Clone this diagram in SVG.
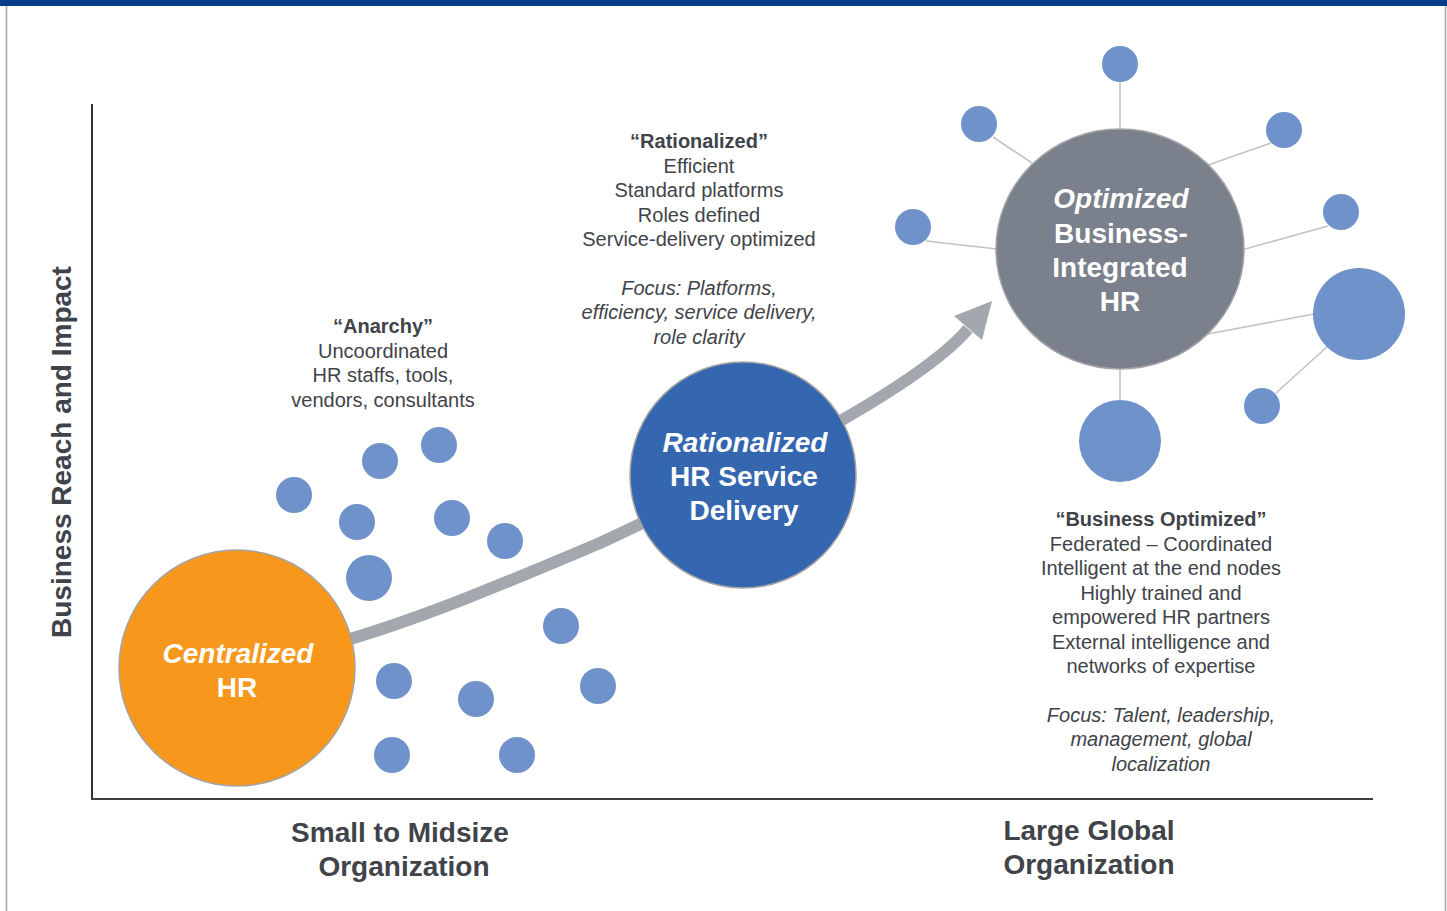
<svg xmlns="http://www.w3.org/2000/svg" width="1447" height="911" viewBox="0 0 1447 911">
<style>
.t{font-family:"Liberation Sans",Arial,sans-serif;font-size:20px;fill:#404349;text-anchor:middle}
.b{font-weight:bold}
.i{font-style:italic}
.n{font-family:"Liberation Sans",Arial,sans-serif;font-size:28px;font-weight:bold;fill:#ffffff;text-anchor:middle}
.ax{font-family:"Liberation Sans",Arial,sans-serif;font-size:28px;font-weight:bold;fill:#404349;text-anchor:middle}
.dot{fill:#7092CA}
.sat{stroke:#C3C3C3;stroke-width:1.6;fill:none}
</style>
<rect x="0" y="0" width="1447" height="911" fill="#ffffff"/>
<rect x="0" y="0" width="1447" height="6" fill="#063E87"/>
<line x1="6.5" y1="6" x2="6.5" y2="911" stroke="#A8A8A8" stroke-width="1.5"/>
<line x1="1445.5" y1="6" x2="1445.5" y2="911" stroke="#A8A8A8" stroke-width="1.5"/>

<g id="axes">
<line x1="92" y1="104" x2="92" y2="800" stroke="#333333" stroke-width="2"/>
<line x1="91" y1="799" x2="1373" y2="799" stroke="#404040" stroke-width="2"/>
<text class="ax" transform="translate(71,452) rotate(-90)">Business Reach and Impact</text>
<text class="ax" x="400" y="842">Small to Midsize</text>
<text class="ax" x="404" y="876">Organization</text>
<text class="ax" x="1089" y="840">Large Global</text>
<text class="ax" x="1089" y="874">Organization</text>
</g>

<g id="connectors">
<path d="M350,639 C433,614 517,578 600,543 C720,487 915,392 968,329" fill="none" stroke="#A2A8AD" stroke-width="12"/>
<polygon points="992,301 954,316 982,340" fill="#A2A8AD"/>
<line class="sat" x1="1120" y1="82" x2="1120" y2="130"/>
<line class="sat" x1="993" y1="137" x2="1032" y2="163"/>
<line class="sat" x1="1271" y1="143" x2="1208" y2="165"/>
<line class="sat" x1="926" y1="241" x2="997" y2="249"/>
<line class="sat" x1="1328" y1="226" x2="1245" y2="249"/>
<line class="sat" x1="1314" y1="314" x2="1208" y2="334"/>
<line class="sat" x1="1276" y1="393" x2="1328" y2="346"/>
<line class="sat" x1="1120" y1="367" x2="1120" y2="402"/>
</g>

<g id="anarchy-dots">
<circle class="dot" cx="294" cy="495" r="18"/>
<circle class="dot" cx="380" cy="461" r="18"/>
<circle class="dot" cx="439" cy="445" r="18"/>
<circle class="dot" cx="357" cy="522" r="18"/>
<circle class="dot" cx="452" cy="518" r="18"/>
<circle class="dot" cx="505" cy="541" r="18"/>
<circle class="dot" cx="369" cy="578" r="23"/>
<circle class="dot" cx="561" cy="626" r="18"/>
<circle class="dot" cx="394" cy="681" r="18"/>
<circle class="dot" cx="476" cy="699" r="18"/>
<circle class="dot" cx="598" cy="686" r="18"/>
<circle class="dot" cx="392" cy="755" r="18"/>
<circle class="dot" cx="517" cy="755" r="18"/>
</g>

<g id="satellites">
<circle class="dot" cx="1120" cy="64" r="18"/>
<circle class="dot" cx="979" cy="124" r="18"/>
<circle class="dot" cx="1284" cy="130" r="18"/>
<circle class="dot" cx="913" cy="227" r="18"/>
<circle class="dot" cx="1341" cy="212" r="18"/>
<circle class="dot" cx="1359" cy="314" r="46"/>
<circle class="dot" cx="1262" cy="406" r="18"/>
<circle class="dot" cx="1120" cy="441" r="41"/>
</g>

<g id="node-centralized">
<circle cx="237" cy="668" r="118" fill="#F7981D" stroke="#A4A4A4" stroke-width="1.5"/>
<text class="n i" x="238" y="663">Centralized</text>
<text class="n" x="237" y="697">HR</text>
</g>

<g id="node-rationalized">
<circle cx="743" cy="475" r="113" fill="#3566B0" stroke="#A4A4A4" stroke-width="1.5"/>
<text class="n i" x="745" y="452">Rationalized</text>
<text class="n" x="744" y="486">HR Service</text>
<text class="n" x="744" y="520">Delivery</text>
</g>

<g id="node-optimized">
<ellipse cx="1120" cy="249" rx="124" ry="120" fill="#7A808C" stroke="#A4A4A4" stroke-width="1.5"/>
<text class="n i" x="1121" y="208">Optimized</text>
<text class="n" x="1121" y="243">Business-</text>
<text class="n" x="1120" y="277">Integrated</text>
<text class="n" x="1120" y="311">HR</text>
</g>

<g id="text-rationalized">
<text class="t b" x="699" y="148">“Rationalized”</text>
<text class="t" x="699" y="172.5">Efficient</text>
<text class="t" x="699" y="197">Standard platforms</text>
<text class="t" x="699" y="221.5">Roles defined</text>
<text class="t" x="699" y="246">Service-delivery optimized</text>
<text class="t i" x="699" y="294.5">Focus: Platforms,</text>
<text class="t i" x="699" y="319">efficiency, service delivery,</text>
<text class="t i" x="699" y="343.5">role clarity</text>
</g>

<g id="text-anarchy">
<text class="t b" x="383" y="333">“Anarchy”</text>
<text class="t" x="383" y="357.5">Uncoordinated</text>
<text class="t" x="383" y="382">HR staffs, tools,</text>
<text class="t" x="383" y="406.5">vendors, consultants</text>
</g>

<g id="text-business-optimized">
<text class="t b" x="1161" y="526">“Business Optimized”</text>
<text class="t" x="1161" y="550.5">Federated – Coordinated</text>
<text class="t" x="1161" y="575">Intelligent at the end nodes</text>
<text class="t" x="1161" y="599.5">Highly trained and</text>
<text class="t" x="1161" y="624">empowered HR partners</text>
<text class="t" x="1161" y="648.5">External intelligence and</text>
<text class="t" x="1161" y="673">networks of expertise</text>
<text class="t i" x="1161" y="721.5">Focus: Talent, leadership,</text>
<text class="t i" x="1161" y="746">management, global</text>
<text class="t i" x="1161" y="770.5">localization</text>
</g>
</svg>
